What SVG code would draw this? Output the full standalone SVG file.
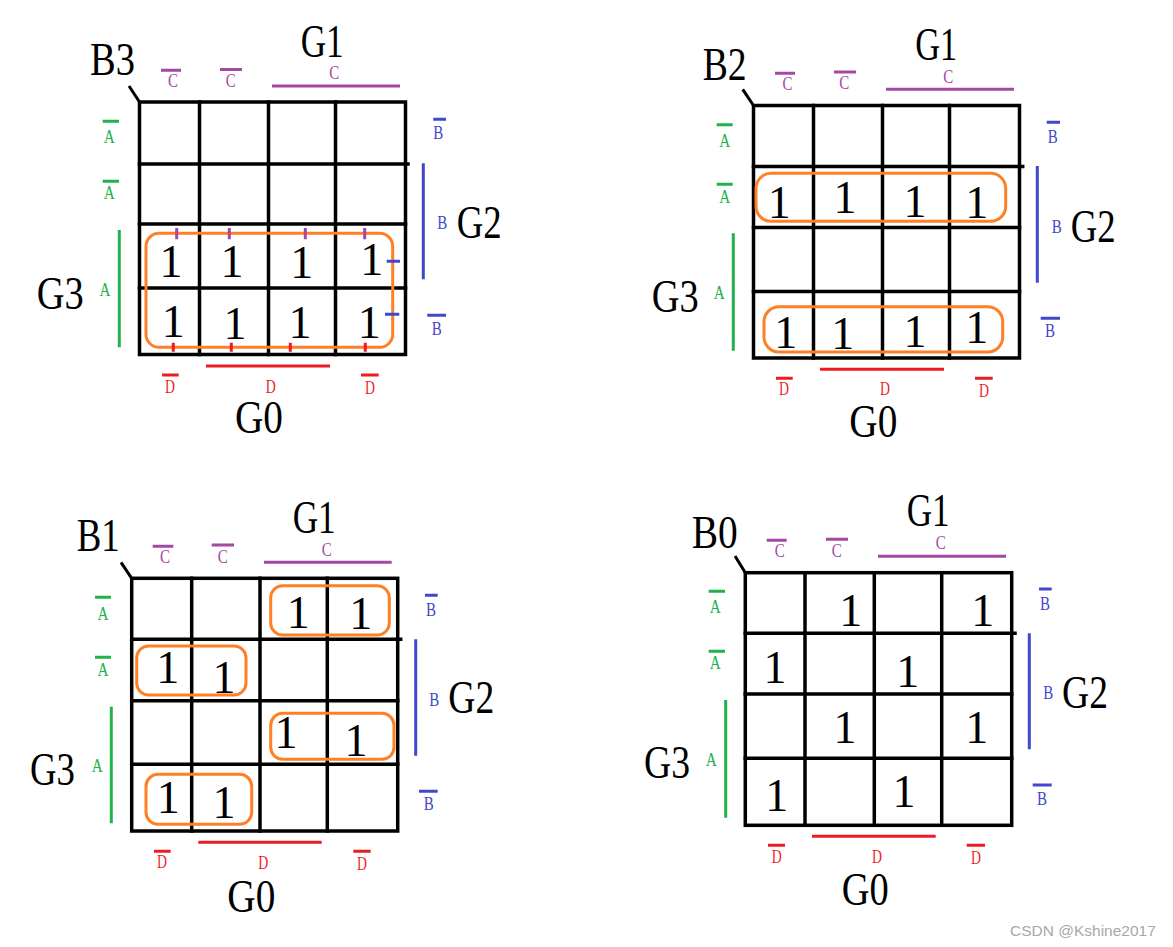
<svg xmlns="http://www.w3.org/2000/svg" width="1173" height="947" viewBox="0 0 1173 947">
<style>
.bg{fill:#fff}
.gl{stroke:#000;stroke-width:3.5;fill:none;stroke-linecap:square}
.dg{stroke:#000;stroke-width:3;fill:none}
.pu{stroke:#a349a4;stroke-width:3;fill:none}
.gn{stroke:#22b14c;stroke-width:3;fill:none}
.bu{stroke:#3f48cc;stroke-width:3;fill:none}
.rd{stroke:#ed1c24;stroke-width:3;fill:none}
.or{stroke:#ff7f27;stroke-width:3;fill:none}
text{font-family:"Liberation Serif","Times New Roman",serif}
.big{font-size:47px;fill:#000}
.one{font-size:46px;fill:#000;text-anchor:middle}
.s{font-size:19px;text-anchor:middle}
.tp{fill:#a349a4}.tg{fill:#22b14c}.tb{fill:#3f48cc}.tr{fill:#ed1c24}
.wm{font-family:"Liberation Sans",Arial,sans-serif;font-size:15.5px;fill:#a8a8a8}
</style>
<rect class="bg" x="0" y="0" width="1173" height="947"/>

<!-- Map B3 -->
<g id="map-b3">
  <g id="b3-grid">
    <rect class="gl" x="139.5" y="102" width="266" height="252.5"/>
    <path class="gl" d="M199.5 102V354.5M268.5 102V354.5M335.5 102V354.5M139.5 164H408M139.5 224H405.5M139.5 288H405.5"/>
    <path class="dg" d="M129 86L139.5 102"/>
  </g>
  <g id="b3-labels">
    <text class="big" x="90" y="75" textLength="45" lengthAdjust="spacingAndGlyphs">B3</text>
    <text class="big" x="300.7" y="57.3" textLength="43" lengthAdjust="spacingAndGlyphs">G1</text>
    <path class="pu" d="M161 70.3H181M220 69.5H242M272 86H400"/>
    <text class="s tp" x="173" y="87" textLength="10" lengthAdjust="spacingAndGlyphs">C</text>
    <text class="s tp" x="230.7" y="86.5" textLength="10" lengthAdjust="spacingAndGlyphs">C</text>
    <text class="s tp" x="334.3" y="79.3" textLength="10" lengthAdjust="spacingAndGlyphs">C</text>
    <path class="gn" d="M102.7 121.3H119M102.7 181.3H119M119.3 230V347.3"/>
    <text class="s tg" x="109.3" y="143.3" textLength="11" lengthAdjust="spacingAndGlyphs">A</text>
    <text class="s tg" x="109.3" y="199" textLength="11" lengthAdjust="spacingAndGlyphs">A</text>
    <text class="s tg" x="105" y="295.7" textLength="11" lengthAdjust="spacingAndGlyphs">A</text>
    <text class="big" x="36.7" y="309.3" textLength="47" lengthAdjust="spacingAndGlyphs">G3</text>
    <path class="bu" d="M433.3 119.3H446M423.3 163.3V279.3M427.3 315.3H446"/>
    <text class="s tb" x="438.3" y="139.3" textLength="10" lengthAdjust="spacingAndGlyphs">B</text>
    <text class="s tb" x="442.3" y="229.3" textLength="10" lengthAdjust="spacingAndGlyphs">B</text>
    <text class="s tb" x="436.7" y="335" textLength="10" lengthAdjust="spacingAndGlyphs">B</text>
    <text class="big" x="456.7" y="238.3" textLength="45" lengthAdjust="spacingAndGlyphs">G2</text>
    <path class="rd" d="M162 375H178.7M206 366H330M361 375H378.7"/>
    <text class="s tr" x="170" y="392.7" textLength="10" lengthAdjust="spacingAndGlyphs">D</text>
    <text class="s tr" x="270.7" y="393.3" textLength="10" lengthAdjust="spacingAndGlyphs">D</text>
    <text class="s tr" x="370" y="394" textLength="10" lengthAdjust="spacingAndGlyphs">D</text>
    <text class="big" x="235" y="433.3" textLength="48" lengthAdjust="spacingAndGlyphs">G0</text>
  </g>
  <g id="b3-cells">
    <text class="one" x="171" y="277.3">1</text>
    <text class="one" x="232" y="277.3">1</text>
    <text class="one" x="301.7" y="278">1</text>
    <text class="one" x="371.7" y="275">1</text>
    <text class="one" x="173.3" y="337.3">1</text>
    <text class="one" x="235" y="338.7">1</text>
    <text class="one" x="300" y="337.7">1</text>
    <text class="one" x="369.3" y="338">1</text>
  </g>
  <g id="b3-group">
    <rect class="or" x="146" y="233.3" width="246.7" height="114" rx="13"/>
    <path class="pu" d="M176.7 228V239.3M229.3 228V239.3M305.3 228V239.3M364.7 228V239.3"/>
    <path class="rd" d="M173.3 342.7V351.7M231.3 342.7V351.7M290.3 342.7V351.7M365.3 342.7V351.7"/>
    <path class="bu" d="M386.7 261.3H400M385 314.3H399.3"/>
  </g>
</g>

<!-- Map B2 -->
<g id="map-b2">
  <g id="b2-grid">
    <rect class="gl" x="753.5" y="105.5" width="266" height="252.5"/>
    <path class="gl" d="M813.5 105.5V358M882.5 105.5V358M949.5 105.5V358M753.5 166.5H1022.7M753.5 227.5H1019.5M753.5 291.5H1019.5"/>
    <path class="dg" d="M742.7 89.3L753.5 105.5"/>
  </g>
  <g id="b2-labels">
    <text class="big" x="702.7" y="80" textLength="44" lengthAdjust="spacingAndGlyphs">B2</text>
    <text class="big" x="915.3" y="60" textLength="42" lengthAdjust="spacingAndGlyphs">G1</text>
    <path class="pu" d="M775 73.3H795M834 72H856M886 89.3H1014"/>
    <text class="s tp" x="787.5" y="89.5" textLength="10" lengthAdjust="spacingAndGlyphs">C</text>
    <text class="s tp" x="844.3" y="89" textLength="10" lengthAdjust="spacingAndGlyphs">C</text>
    <text class="s tp" x="948.3" y="82.7" textLength="10" lengthAdjust="spacingAndGlyphs">C</text>
    <path class="gn" d="M716.7 124.7H732.7M716.7 184.3H732.7M733.3 233.3V350.7"/>
    <text class="s tg" x="724.7" y="146.7" textLength="11" lengthAdjust="spacingAndGlyphs">A</text>
    <text class="s tg" x="724.7" y="202.7" textLength="11" lengthAdjust="spacingAndGlyphs">A</text>
    <text class="s tg" x="719.3" y="299.3" textLength="11" lengthAdjust="spacingAndGlyphs">A</text>
    <text class="big" x="651.7" y="311.7" textLength="47" lengthAdjust="spacingAndGlyphs">G3</text>
    <path class="bu" d="M1046.7 122.3H1060M1037.3 166V282.7M1040.7 318.3H1060"/>
    <text class="s tb" x="1052.7" y="142.7" textLength="10" lengthAdjust="spacingAndGlyphs">B</text>
    <text class="s tb" x="1056.7" y="232.7" textLength="10" lengthAdjust="spacingAndGlyphs">B</text>
    <text class="s tb" x="1050" y="337.3" textLength="10" lengthAdjust="spacingAndGlyphs">B</text>
    <text class="big" x="1070.7" y="241.7" textLength="45" lengthAdjust="spacingAndGlyphs">G2</text>
    <path class="rd" d="M776 378.3H792.7M820 369.3H944M975 378.3H992.7"/>
    <text class="s tr" x="784" y="395" textLength="10" lengthAdjust="spacingAndGlyphs">D</text>
    <text class="s tr" x="885" y="395" textLength="10" lengthAdjust="spacingAndGlyphs">D</text>
    <text class="s tr" x="984" y="396.7" textLength="10" lengthAdjust="spacingAndGlyphs">D</text>
    <text class="big" x="849.3" y="437.3" textLength="48" lengthAdjust="spacingAndGlyphs">G0</text>
  </g>
  <g id="b2-cells">
    <text class="one" x="779.3" y="218.3">1</text>
    <text class="one" x="845" y="213.3">1</text>
    <text class="one" x="915" y="216.7">1</text>
    <text class="one" x="976.7" y="218.3">1</text>
    <text class="one" x="785.7" y="348.3">1</text>
    <text class="one" x="842.7" y="349.3">1</text>
    <text class="one" x="915" y="346.7">1</text>
    <text class="one" x="976.7" y="342.7">1</text>
  </g>
  <g id="b2-groups">
    <rect class="or" x="756" y="173.3" width="249.7" height="48" rx="15"/>
    <rect class="or" x="764" y="306.7" width="238.7" height="45.3" rx="15"/>
  </g>
</g>

<!-- Map B1 -->
<g id="map-b1">
  <g id="b1-grid">
    <rect class="gl" x="131.7" y="578.3" width="266" height="252.7"/>
    <path class="gl" d="M191.7 578.3V831M260 578.3V831M327.3 578.3V831M131.7 639.3H400.7M131.7 700.7H397.7M131.7 764.3H397.7"/>
    <path class="dg" d="M121 562.3L131.7 578.3"/>
  </g>
  <g id="b1-labels">
    <text class="big" x="76.7" y="550.7" textLength="43" lengthAdjust="spacingAndGlyphs">B1</text>
    <text class="big" x="292.7" y="532.7" textLength="43" lengthAdjust="spacingAndGlyphs">G1</text>
    <path class="pu" d="M152.7 546.3H173.3M211.7 545H234M264 562.3H391.7"/>
    <text class="s tp" x="165" y="563.3" textLength="10" lengthAdjust="spacingAndGlyphs">C</text>
    <text class="s tp" x="222.7" y="563.3" textLength="10" lengthAdjust="spacingAndGlyphs">C</text>
    <text class="s tp" x="326.7" y="555.7" textLength="10" lengthAdjust="spacingAndGlyphs">C</text>
    <path class="gn" d="M95 597.3H111M95 657.3H111M111.3 706.7V823.3"/>
    <text class="s tg" x="103" y="620" textLength="11" lengthAdjust="spacingAndGlyphs">A</text>
    <text class="s tg" x="103" y="676" textLength="11" lengthAdjust="spacingAndGlyphs">A</text>
    <text class="s tg" x="97.3" y="771.7" textLength="11" lengthAdjust="spacingAndGlyphs">A</text>
    <text class="big" x="30" y="785" textLength="45" lengthAdjust="spacingAndGlyphs">G3</text>
    <path class="bu" d="M425 595.3H437.7M415.7 639.3V755.7M419 791.3H437.7"/>
    <text class="s tb" x="431" y="615.7" textLength="10" lengthAdjust="spacingAndGlyphs">B</text>
    <text class="s tb" x="434.3" y="706" textLength="10" lengthAdjust="spacingAndGlyphs">B</text>
    <text class="s tb" x="428.7" y="810" textLength="10" lengthAdjust="spacingAndGlyphs">B</text>
    <text class="big" x="448.3" y="713.3" textLength="46" lengthAdjust="spacingAndGlyphs">G2</text>
    <path class="rd" d="M154 851.3H170.7M198.3 842.3H321.7M353.3 851.3H370.7"/>
    <text class="s tr" x="162" y="868.3" textLength="10" lengthAdjust="spacingAndGlyphs">D</text>
    <text class="s tr" x="263.3" y="869" textLength="10" lengthAdjust="spacingAndGlyphs">D</text>
    <text class="s tr" x="362" y="870" textLength="10" lengthAdjust="spacingAndGlyphs">D</text>
    <text class="big" x="227.3" y="911.7" textLength="48" lengthAdjust="spacingAndGlyphs">G0</text>
  </g>
  <g id="b1-cells">
    <text class="one" x="298.3" y="628.3">1</text>
    <text class="one" x="360.7" y="629">1</text>
    <text class="one" x="167.7" y="682.7">1</text>
    <text class="one" x="224" y="692.7">1</text>
    <text class="one" x="286" y="748.3">1</text>
    <text class="one" x="356" y="756">1</text>
    <text class="one" x="168.3" y="813.3">1</text>
    <text class="one" x="224" y="818.3">1</text>
  </g>
  <g id="b1-groups">
    <rect class="or" x="270.7" y="585.7" width="118.6" height="49.3" rx="12"/>
    <rect class="or" x="136.7" y="646" width="109.3" height="49" rx="12"/>
    <rect class="or" x="270.7" y="713.3" width="123.3" height="46" rx="12"/>
    <rect class="or" x="146" y="774.3" width="105.7" height="50" rx="12"/>
  </g>
</g>

<!-- Map B0 -->
<g id="map-b0">
  <g id="b0-grid">
    <rect class="gl" x="745.3" y="572.7" width="266.4" height="252.6"/>
    <path class="gl" d="M805 572.7V825.3M874.3 572.7V825.3M941.7 572.7V825.3M745.3 633.3H1015M745.3 694H1011.7M745.3 758.3H1011.7"/>
    <path class="dg" d="M735 556L745.3 572.7"/>
  </g>
  <g id="b0-labels">
    <text class="big" x="691.7" y="548.3" textLength="46" lengthAdjust="spacingAndGlyphs">B0</text>
    <text class="big" x="906.7" y="526" textLength="43" lengthAdjust="spacingAndGlyphs">G1</text>
    <path class="pu" d="M766.7 540.3H786.7M826 539.3H848M878 556.3H1006"/>
    <text class="s tp" x="779.7" y="556.7" textLength="10" lengthAdjust="spacingAndGlyphs">C</text>
    <text class="s tp" x="836.7" y="556.7" textLength="10" lengthAdjust="spacingAndGlyphs">C</text>
    <text class="s tp" x="940.7" y="549.3" textLength="10" lengthAdjust="spacingAndGlyphs">C</text>
    <path class="gn" d="M708.7 591.3H725M708.7 651.3H725M725.7 700V817.7"/>
    <text class="s tg" x="715.3" y="613.3" textLength="11" lengthAdjust="spacingAndGlyphs">A</text>
    <text class="s tg" x="715.3" y="669.3" textLength="11" lengthAdjust="spacingAndGlyphs">A</text>
    <text class="s tg" x="711.3" y="766" textLength="11" lengthAdjust="spacingAndGlyphs">A</text>
    <text class="big" x="644" y="778.3" textLength="46" lengthAdjust="spacingAndGlyphs">G3</text>
    <path class="bu" d="M1039 589H1051.7M1029.3 633.3V749.3M1032.7 785H1051.7"/>
    <text class="s tb" x="1045" y="610" textLength="10" lengthAdjust="spacingAndGlyphs">B</text>
    <text class="s tb" x="1048.3" y="699.3" textLength="10" lengthAdjust="spacingAndGlyphs">B</text>
    <text class="s tb" x="1042" y="805" textLength="10" lengthAdjust="spacingAndGlyphs">B</text>
    <text class="big" x="1062" y="708.3" textLength="46" lengthAdjust="spacingAndGlyphs">G2</text>
    <path class="rd" d="M768 845.3H785M812 836.3H935.7M966.7 845.3H985"/>
    <text class="s tr" x="776.7" y="862.7" textLength="10" lengthAdjust="spacingAndGlyphs">D</text>
    <text class="s tr" x="877" y="863.3" textLength="10" lengthAdjust="spacingAndGlyphs">D</text>
    <text class="s tr" x="976" y="864" textLength="10" lengthAdjust="spacingAndGlyphs">D</text>
    <text class="big" x="841.7" y="905" textLength="47" lengthAdjust="spacingAndGlyphs">G0</text>
  </g>
  <g id="b0-cells">
    <text class="one" x="850.7" y="626">1</text>
    <text class="one" x="982.7" y="626">1</text>
    <text class="one" x="775" y="682.7">1</text>
    <text class="one" x="907.7" y="687.3">1</text>
    <text class="one" x="845" y="743.3">1</text>
    <text class="one" x="976.7" y="743.3">1</text>
    <text class="one" x="776.7" y="810.7">1</text>
    <text class="one" x="904" y="807.3">1</text>
  </g>
</g>

<text id="watermark" class="wm" x="1010" y="936">CSDN @Kshine2017</text>
</svg>
